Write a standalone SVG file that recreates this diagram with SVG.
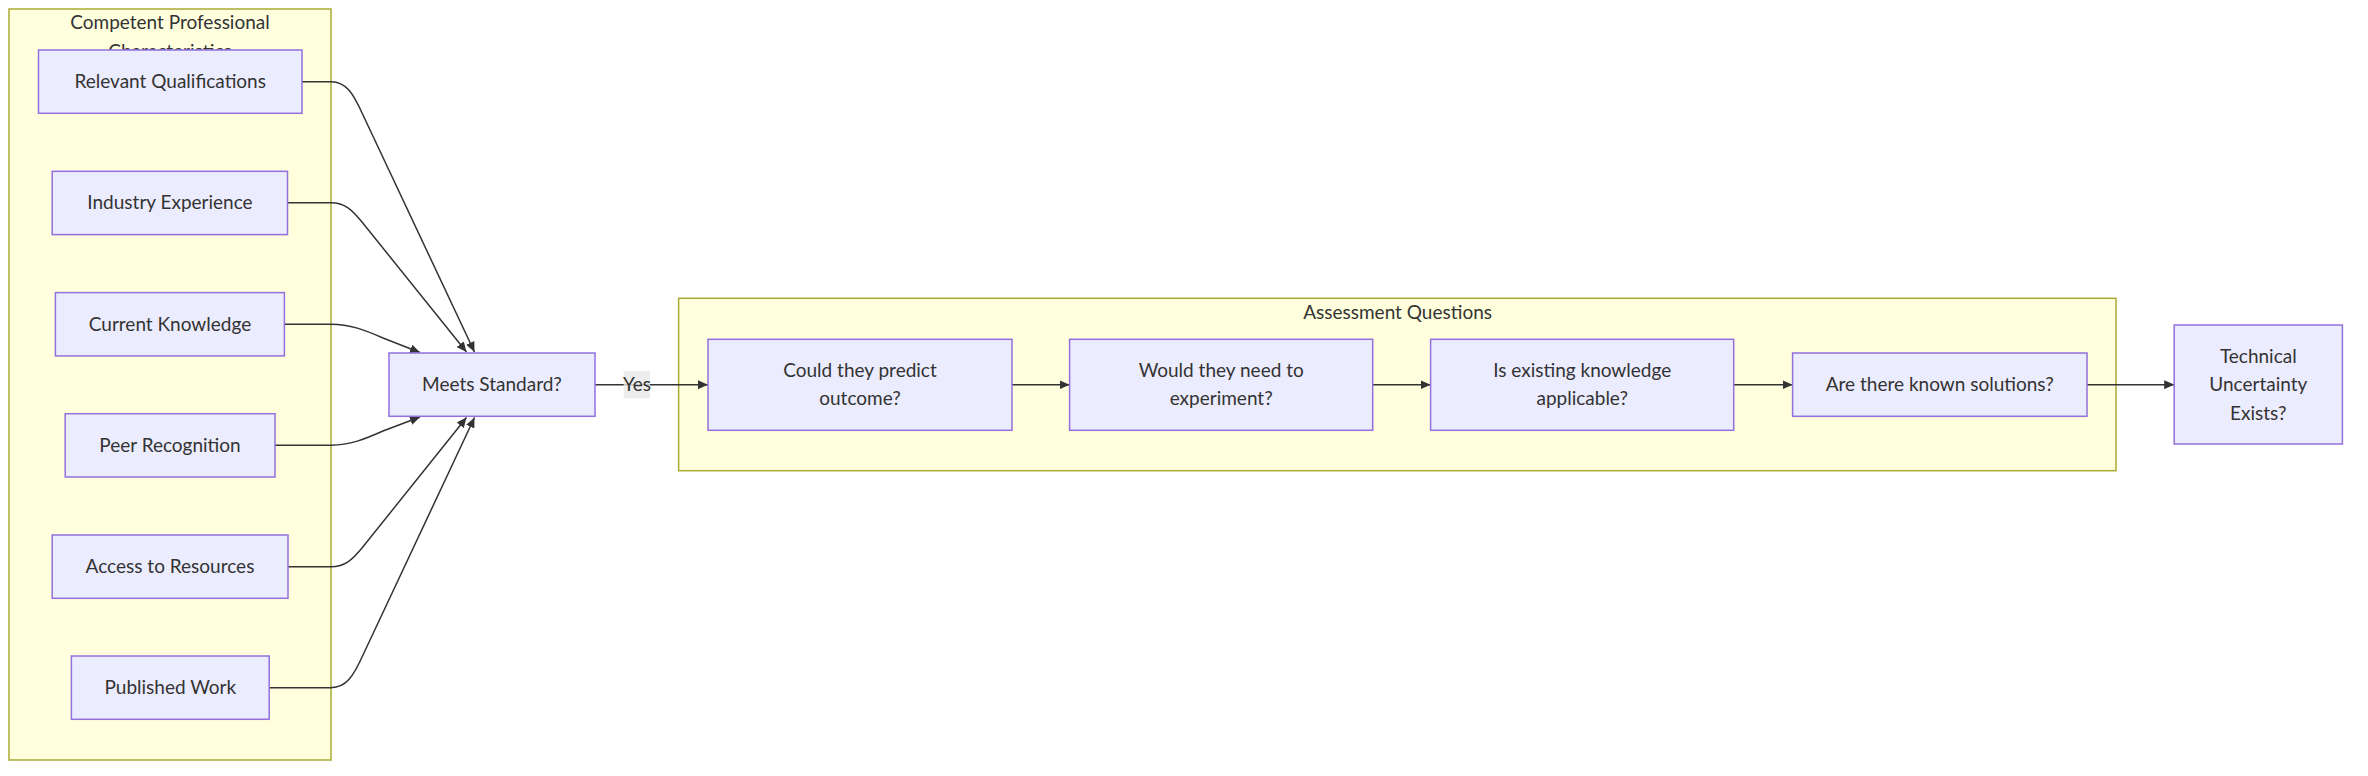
<svg xmlns="http://www.w3.org/2000/svg" width="2368" height="776" viewBox="0 0 2368 776">
<style>
  .cluster rect { fill: #ffffde; stroke: #aaaa33; stroke-width: 1.5; }
  .node rect { fill: #ECECFF; stroke: #9370DB; stroke-width: 1.5; }
  text { font-family: Lato, "Open Sans", "Liberation Sans", sans-serif; font-size: 19px; fill: #333333; text-anchor: middle; dominant-baseline: central; }
  .edge { fill: none; stroke: #333333; stroke-width: 1.5; marker-end: url(#arrow); }
  .lbl-bg { fill: #e8e8e8; opacity: 0.8; }
</style>
<defs>
  <marker id="arrow" viewBox="0 0 10 9" refX="10" refY="4.5" markerWidth="10" markerHeight="9" markerUnits="userSpaceOnUse" orient="auto">
    <path d="M0,0 L10,4.5 L0,9 z" fill="#333333"/>
  </marker>
</defs>
<rect width="2368" height="776" fill="#ffffff"/>

<g id="cluster-competent" class="cluster">
  <rect x="9" y="9" width="322" height="751"/>
  <text x="170" y="21.7">Competent Professional</text>
  <text x="170" y="50">Characteristics</text>
</g>
<g id="cluster-assessment" class="cluster">
  <rect x="678.6" y="298.3" width="1437.4" height="172.4"/>
  <text x="1397.6" y="311.3">Assessment Questions</text>
</g>

<g id="connectors">
  <path class="edge" d="M302,81.7 L331,81.7 C346,81.7 353,93 363,115 L474.5,352"/>
  <path class="edge" d="M287.5,202.8 L331,202.8 C345,202.8 352,210 362,222 L466.5,352"/>
  <path class="edge" d="M284.4,324.2 L331,324.2 C350,324.2 365,330 383,338 L420,352.5"/>
  <path class="edge" d="M275,445.2 L331,445.2 C350,445.2 365,439 383,431 L420,417"/>
  <path class="edge" d="M288,566.7 L331,566.7 C345,566.7 352,560 362,548 L466.5,417.5"/>
  <path class="edge" d="M269.2,687.7 L331,687.7 C346,687.7 353,677 363,655 L474.5,417.5"/>
  <path class="edge" d="M595,384.7 L708,384.7"/>
  <path class="edge" d="M1012,384.7 L1069.6,384.7"/>
  <path class="edge" d="M1372.7,384.7 L1430.6,384.7"/>
  <path class="edge" d="M1733.7,384.7 L1792.6,384.7"/>
  <path class="edge" d="M2087,384.7 L2174.2,384.7"/>
  <g id="edge-label-yes">
    <rect class="lbl-bg" x="623.7" y="371" width="26.3" height="27.3"/>
    <text x="637" y="383.7">Yes</text>
  </g>
</g>

<g id="node-relevant" class="node">
  <rect x="38.5" y="50" width="263.5" height="63.3"/>
  <text x="170.2" y="80.7">Relevant Qualifications</text>
</g>
<g id="node-industry" class="node">
  <rect x="52.2" y="171.3" width="235.3" height="63.3"/>
  <text x="170" y="201.8">Industry Experience</text>
</g>
<g id="node-current" class="node">
  <rect x="55.4" y="292.6" width="229" height="63.3"/>
  <text x="170" y="323.2">Current Knowledge</text>
</g>
<g id="node-peer" class="node">
  <rect x="65.2" y="413.7" width="209.8" height="63.3"/>
  <text x="170" y="444.2">Peer Recognition</text>
</g>
<g id="node-access" class="node">
  <rect x="52.2" y="535" width="235.8" height="63.3"/>
  <text x="170" y="565.7">Access to Resources</text>
</g>
<g id="node-published" class="node">
  <rect x="71.4" y="656" width="197.8" height="63.3"/>
  <text x="170.3" y="686.7">Published Work</text>
</g>
<g id="node-meets" class="node">
  <rect x="389" y="353" width="206" height="63.3"/>
  <text x="492" y="383.7">Meets Standard?</text>
</g>
<g id="node-could" class="node">
  <rect x="708" y="339.3" width="304" height="91"/>
  <text x="860" y="369.5">Could they predict</text>
  <text x="860" y="397.8">outcome?</text>
</g>
<g id="node-would" class="node">
  <rect x="1069.6" y="339.3" width="303.1" height="91"/>
  <text x="1221.2" y="369.5">Would they need to</text>
  <text x="1221.2" y="397.8">experiment?</text>
</g>
<g id="node-existing" class="node">
  <rect x="1430.6" y="339.3" width="303.1" height="91"/>
  <text x="1582.2" y="369.5">Is existing knowledge</text>
  <text x="1582.2" y="397.8">applicable?</text>
</g>
<g id="node-known" class="node">
  <rect x="1792.6" y="353" width="294.4" height="63.3"/>
  <text x="1939.8" y="383.7">Are there known solutions?</text>
</g>
<g id="node-technical" class="node">
  <rect x="2174.2" y="325" width="168.2" height="119"/>
  <text x="2258.3" y="355.4">Technical</text>
  <text x="2258.3" y="383.7">Uncertainty</text>
  <text x="2258.3" y="412">Exists?</text>
</g>
</svg>
